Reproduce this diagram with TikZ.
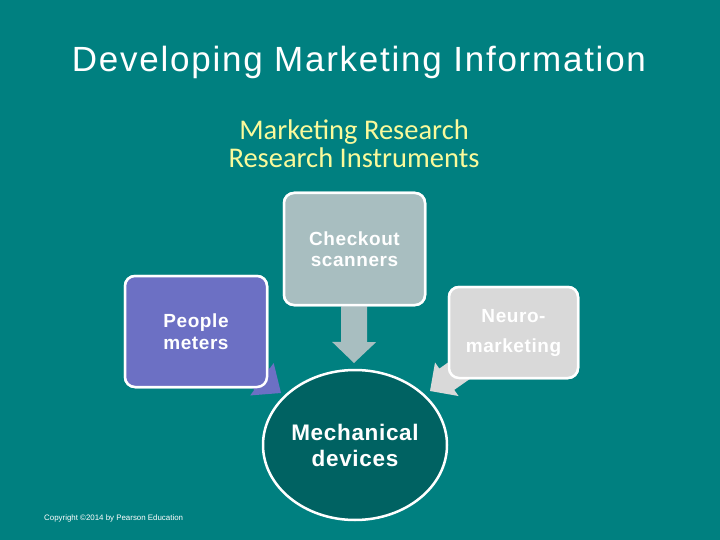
\documentclass[tikz,border=0pt]{standalone}
\usepackage{fontspec}
\setmainfont{Liberation Sans}
\newfontfamily\titlefont[LetterSpace=5]{Liberation Sans}
\newfontfamily\subfont{Carlito}
\newfontfamily\boxfont[LetterSpace=3]{Liberation Sans}
\usetikzlibrary{calc,shapes.geometric}
\definecolor{bgteal}{RGB}{0,128,128}
\definecolor{darkteal}{RGB}{0,98,98}
\definecolor{subyellow}{RGB}{250,250,155}
\definecolor{scangray}{RGB}{168,190,192}
\definecolor{peoplepurple}{RGB}{108,112,196}
\definecolor{neurogray}{RGB}{217,217,217}
\newcommand\blockarr[6]{% color, from, to, shaft half, head half, head length
  \coordinate (hb) at ($(#3)!#6!(#2)$);
  \fill[#1] ($(#2)!#4!90:(#3)$) -- ($(hb)!#4!-90:(#2)$) -- ($(hb)!#5!-90:(#2)$) -- (#3)
    -- ($(hb)!#5!90:(#2)$) -- ($(hb)!#4!90:(#2)$) -- ($(#2)!#4!-90:(#3)$) -- cycle;
}
\tikzset{
  boxnode/.style={rectangle, rounded corners=10pt, draw=white, line width=2.5pt,
    text=white, align=center, inner sep=0pt},
  lbl/.style={text=white, align=center, inner sep=0pt}
}
\begin{document}
\begin{tikzpicture}[x=1pt,y=-1pt]
\fill[bgteal] (0,0) rectangle (720,540);
\useasboundingbox (0,0) rectangle (720,540);

\node[text=white, inner sep=0pt, font=\titlefont\fontsize{35}{40}\selectfont] (title) at (359,62) {Developing Marketing Information};
\node[text=subyellow, align=center, inner sep=0pt, font=\subfont\fontsize{28.5}{28}\selectfont] (sub) at (354,144) {Marketing Research\\Research Instruments};

\coordinate (tipD) at (354,363);
\coordinate (tipL) at (281,393);
\coordinate (tipR) at (430,391);

\node[boxnode, fill=scangray, minimum width=141pt, minimum height=112pt] (scan) at (354.5,249) {};
\node[boxnode, fill=peoplepurple, minimum width=142pt, minimum height=111pt] (people) at (196,331.5) {};
\node[boxnode, fill=neurogray, minimum width=129pt, minimum height=91pt] (neuro) at (513.5,332.5) {};

% arrows drawn, then boxes redrawn on top
\blockarr{scangray}{scan.center}{tipD}{13pt}{22pt}{21pt}
\blockarr{peoplepurple}{people.center}{tipL}{13pt}{20pt}{23.5pt}
\blockarr{neurogray}{neuro.center}{tipR}{13pt}{20.5pt}{20.5pt}

\node[boxnode, fill=scangray, minimum width=141pt, minimum height=112pt, font=\boxfont\bfseries\fontsize{19}{21}\selectfont] (scanb) at (scan) {Checkout\\scanners};
\node[boxnode, fill=peoplepurple, minimum width=142pt, minimum height=111pt, font=\boxfont\bfseries\fontsize{19}{22}\selectfont] (peopleb) at (people) {People\\meters};
\node[boxnode, fill=neurogray, minimum width=129pt, minimum height=91pt, font=\boxfont\bfseries\fontsize{19}{30}\selectfont] (neurob) at (neuro) {Neuro-\\marketing};

\node[ellipse, draw=white, line width=2.5pt, fill=darkteal, minimum width=184pt, minimum height=150pt, inner sep=0pt] (mech) at (355,445) {};
\node[lbl, font=\boxfont\bfseries\fontsize{22.5}{26}\selectfont] (mechl) at (mech) {Mechanical\\devices};

\node[text=white, inner sep=0pt, anchor=west, font=\fontsize{7.9}{9}\selectfont] (copy) at (44,518) {Copyright ©2014 by Pearson Education};
\end{tikzpicture}
\end{document}
